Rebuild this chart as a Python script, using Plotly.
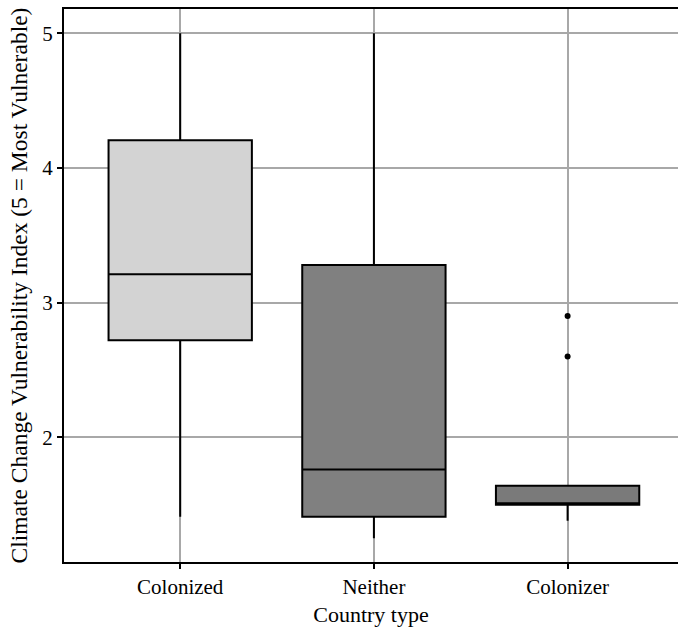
import plotly.graph_objects as go

categories = ["Colonized", "Neither", "Colonizer"]
q1 = [2.72, 1.41, 1.50]
median = [3.21, 1.76, 1.51]
q3 = [4.205, 3.28, 1.64]
lowerfence = [1.41, 1.25, 1.38]
upperfence = [5.0, 5.0, 1.64]
fills = ["#d3d3d3", "#808080", "#7a7a7a"]

outlier_cat = ["Colonizer", "Colonizer"]
outlier_val = [2.90, 2.60]

yticks = [2, 3, 4, 5]

fig = go.Figure()
for i, c in enumerate(categories):
    fig.add_trace(go.Box(
        x=[c], q1=[q1[i]], median=[median[i]], q3=[q3[i]],
        lowerfence=[lowerfence[i]], upperfence=[upperfence[i]],
        fillcolor=fills[i], line=dict(color="black", width=2),
        width=0.74, whiskerwidth=0, boxpoints=False, showlegend=False,
    ))

fig.add_trace(go.Scatter(
    x=outlier_cat, y=outlier_val, mode="markers",
    marker=dict(color="black", size=6), showlegend=False,
))

font = dict(family="Liberation Serif, DejaVu Serif, serif", color="black")

fig.update_layout(
    width=678, height=630,
    margin=dict(l=64, r=0, t=9, b=68),
    plot_bgcolor="white", paper_bgcolor="white",
    boxmode="overlay",
    font=dict(**font, size=21),
)
fig.update_xaxes(
    type="category", categoryorder="array", categoryarray=categories,
    range=[-0.6, 2.57],
    showgrid=True, gridcolor="#a8a8a8", gridwidth=2,
    showline=True, linecolor="black", linewidth=2, mirror=True,
    ticks="outside", ticklen=5, tickwidth=2, tickcolor="black",
    tickfont=dict(size=21),
    title=dict(text="Country type", font=dict(size=22), standoff=8),
    zeroline=False, automargin=False,
)
fig.update_yaxes(
    range=[1.074, 5.18],
    tickvals=yticks, ticktext=[str(v) for v in yticks],
    showgrid=True, gridcolor="#a8a8a8", gridwidth=2,
    showline=True, linecolor="black", linewidth=2, mirror=False,
    ticks="outside", ticklen=5, tickwidth=2, tickcolor="black",
    tickfont=dict(size=21),
    title=dict(text="Climate Change Vulnerability Index (5 = Most Vulnerable)", font=dict(size=23.5), standoff=8),
    zeroline=False, automargin=False,
)

fig.write_html("out.html", config={"displayModeBar": False},
               post_script="document.body.style.margin='0';")
